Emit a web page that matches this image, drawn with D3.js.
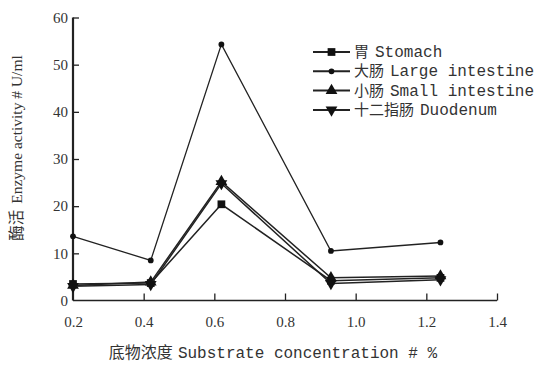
<!DOCTYPE html>
<meta charset="UTF-8">
<script src="https://d3js.org/d3.v7.min.js"></script>
<style>
  body { margin: 0; background: #fff; }
  text { fill: #333; }
</style>
<svg id="chart" width="540" height="365"></svg>
<script>
// data
var conc = [0.2, 0.42, 0.62, 0.93, 1.24];
var stomach = [3.5, 3.7, 20.4, 4.2, 4.8];
var largeInt = [13.6, 8.5, 54.3, 10.5, 12.3];
var smallInt = [3.2, 3.9, 25.2, 4.8, 5.2];
var duodenum = [3.0, 3.4, 24.8, 3.6, 4.4];
var xTicks = [0.2, 0.4, 0.6, 0.8, 1.0, 1.2, 1.4];
var xTickLabels = ["0.2", "0.4", "0.6", "0.8", "1.0", "1.2", "1.4"];
var yTicks = [0, 10, 20, 30, 40, 50, 60];
var seriesNames = ["胃 Stomach", "大肠 Large intestine", "小肠 Small intestine", "十二指肠 Duodenum"];
var seriesValues = [stomach, largeInt, smallInt, duodenum];
var seriesSymbols = [d3.symbolSquare, d3.symbolCircle, d3.symbolTriangle, "down"];

var svg = d3.select("#chart");
var ink = "#222";

var x = d3.scaleLinear().domain([0.2, 1.4]).range([73, 497]);
var y = d3.scaleLinear().domain([0, 60]).range([300.5, 17.5]);

// x axis, ticks pointing up
var xAxis = d3.axisBottom(x).tickValues(xTicks).tickSize(-7)
  .tickFormat(function(d, i) { return xTickLabels[i]; });
var gx = svg.append("g").attr("transform", "translate(0," + y(0) + ")").call(xAxis);
gx.select(".domain").attr("d", "M" + x(0.2) + ",0H" + x(1.4)).attr("stroke", ink).attr("stroke-width", 1.5);
gx.selectAll(".tick line").attr("stroke", ink).attr("stroke-width", 1.3);
gx.selectAll(".tick").filter(function(d) { return d === 0.2; }).select("line").remove();
gx.selectAll(".tick text")
  .attr("y", 16).attr("font-family", "Liberation Serif").attr("font-size", 15).attr("fill", "#444");

// y axis, ticks pointing right
var yAxis = d3.axisLeft(y).tickValues(yTicks).tickSize(-6);
var gy = svg.append("g").attr("transform", "translate(" + x(0.2) + ",0)").call(yAxis);
gy.select(".domain").attr("d", "M0," + y(0) + "V" + y(60)).attr("stroke", ink).attr("stroke-width", 2.2);
gy.selectAll(".tick line").attr("stroke", ink).attr("stroke-width", 1.3);
gy.selectAll(".tick").filter(function(d) { return d === 0; }).select("line").remove();
gy.selectAll(".tick text")
  .attr("x", -5).attr("font-family", "Liberation Serif").attr("font-size", 15).attr("fill", "#444");

var line = d3.line().x(function(d, i) { return x(conc[i]); }).y(function(d) { return y(d); });

function symbolPath(s, size) {
  if (s === "down") {
    return d3.symbol().type(d3.symbolTriangle).size(size)();
  }
  return d3.symbol().type(s).size(size)();
}
function symbolSize(k) { return k === 1 ? 26 : 60; }
function symbolRot(k) { return seriesSymbols[k] === "down" ? " rotate(180)" : ""; }

seriesValues.forEach(function(vals, k) {
  svg.append("path").datum(vals)
    .attr("d", line)
    .attr("fill", "none")
    .attr("stroke", ink)
    .attr("stroke-width", k === 1 ? 1.3 : 1.5);
  svg.selectAll(".pt" + k).data(vals).enter().append("path")
    .attr("transform", function(d, i) { return "translate(" + x(conc[i]) + "," + y(d) + ")" + symbolRot(k); })
    .attr("d", symbolPath(seriesSymbols[k], symbolSize(k)))
    .attr("fill", "#111");
});

// legend
var lg = svg.append("g").attr("transform", "translate(313,52)");
seriesNames.forEach(function(name, k) {
  var row = lg.append("g").attr("transform", "translate(0," + k * 19.3 + ")");
  row.append("line").attr("x1", 0).attr("x2", 37).attr("y1", 0).attr("y2", 0)
    .attr("stroke", ink).attr("stroke-width", 2);
  row.append("path").attr("transform", "translate(18.5,0)" + symbolRot(k))
    .attr("d", symbolPath(seriesSymbols[k], symbolSize(k))).attr("fill", "#111");
  var parts = name.split(" ");
  var t = row.append("text").attr("x", 41).attr("y", 5).attr("font-size", 16);
  t.append("tspan").attr("font-family", "Noto Sans CJK SC").attr("font-size", 15).text(parts[0]);
  t.append("tspan").attr("font-family", "Liberation Mono").attr("dx", 6).text(parts.slice(1).join(" "));
});

// axis titles
svg.append("text")
  .attr("transform", "translate(22,148) rotate(-90)")
  .attr("text-anchor", "middle")
  .attr("font-size", 15.5)
  .attr("fill", "#555")
  .html('<tspan font-family="Noto Sans CJK SC">酶活</tspan><tspan font-family="Liberation Serif" dx="6">Enzyme activity # U/ml</tspan>');

svg.append("text")
  .attr("x", 273).attr("y", 358)
  .attr("text-anchor", "middle")
  .attr("font-size", 16)
  .attr("fill", "#555")
  .html('<tspan font-family="Noto Sans CJK SC">底物浓度</tspan><tspan font-family="Liberation Mono" dx="5">Substrate concentration # %</tspan>');
</script>
